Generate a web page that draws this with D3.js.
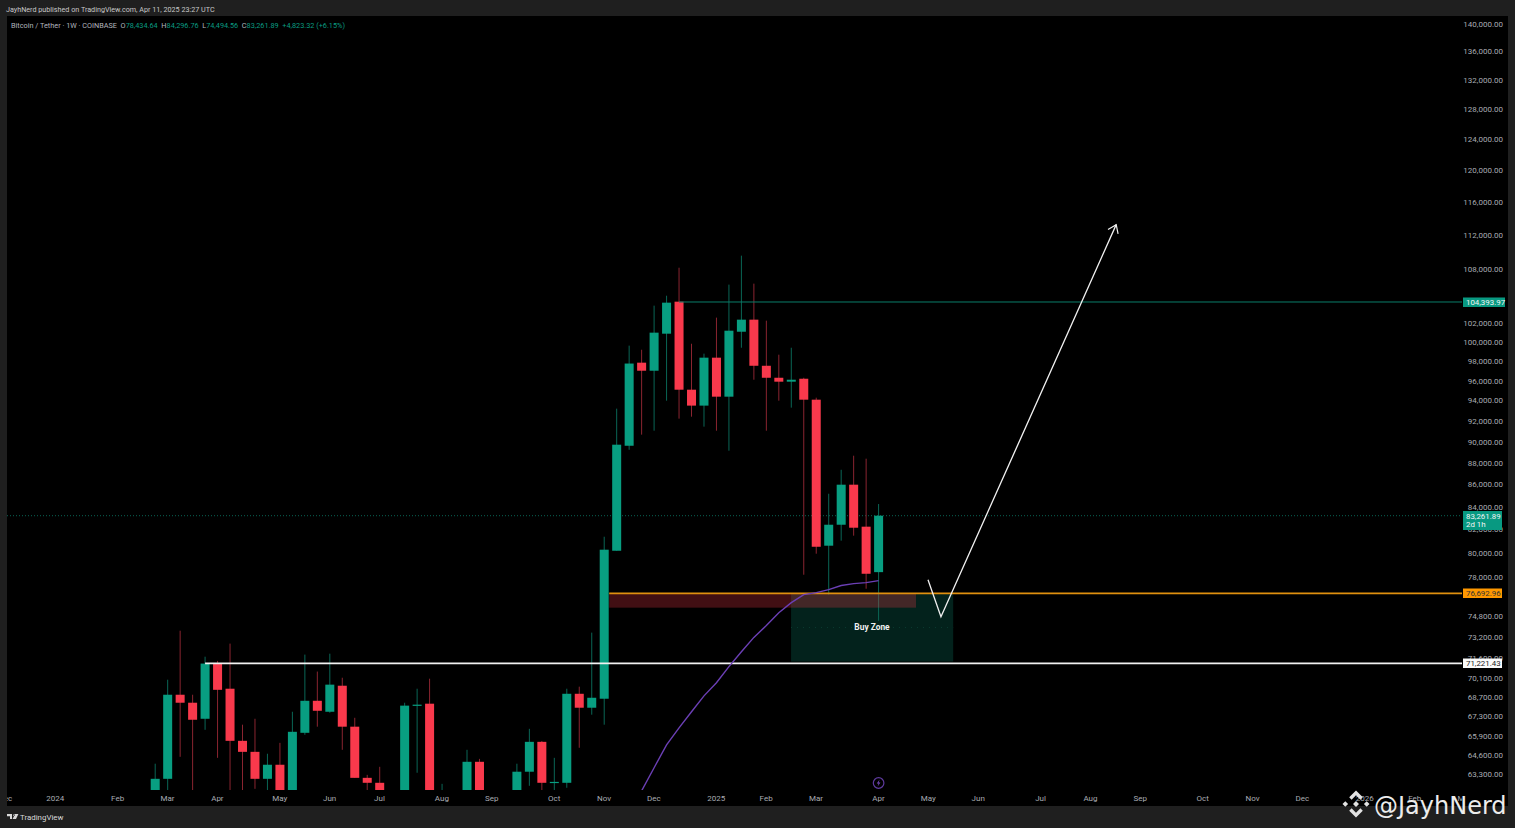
<!DOCTYPE html>
<html><head><meta charset="utf-8">
<script src="https://cdn.jsdelivr.net/npm/d3@7"></script>
<style>html,body{margin:0;padding:0;background:#1e1e1e;overflow:hidden}svg{display:block}
text{font-family:Roboto,"Open Sans",sans-serif}</style></head>
<body><svg id="c" width="1515" height="828"></svg>
<script>
// weekly candles, index 0 = week of late Feb 2024
const opens=[59000,63025,68890,68310,67160,71200,69330,65610,64850,63025,63970,60000,66170,68450,67660,69550,66600,63090,62760,57000,60000,68100,68240,58000,60900,58500,64170,59000,54000,60300,63500,65540,62760,62760,68960,67950,68600,80230,89660,97900,97070,100950,104430,95140,93550,98420,94440,101160,102460,97580,96350,95950,96250,94140,80660,82470,86040,82300,78434.64];
const highs=[64040,69995,73720,68890,71720,71400,72720,66740,67160,64720,65470,67660,71880,70600,71950,70140,67230,63290,63830,61000,68310,69330,70070,62690,61500,64990,64370,61500,60800,64040,66450,65600,64440,69330,69480,73570,81430,93250,99680,99250,103990,105090,108250,99880,98840,102680,106330,109640,106440,102350,98730,99460,96350,94340,85220,87410,88720,88440,84296.76];
const lows=[58000,61500,64510,61000,66380,64440,61000,60500,62360,60500,58500,58500,66030,66600,67590,64990,63090,61500,57000,56000,59000,63430,49000,56000,57000,58000,58000,57500,52500,59500,62560,61800,61000,62430,65130,67450,66740,80230,89280,90720,91100,94040,92270,92460,91490,91100,89190,99460,96150,91100,94040,93350,78220,79980,76590,81090,81520,77070,74494.56];
const closes=[63025,68890,68310,67090,71200,69250,65610,64850,63025,63970,60000,66240,68450,67730,69630,66600,63090,62760,58000,60500,68100,68170,58000,60500,58500,64170,59000,54000,60300,63500,65540,62760,62820,68960,67950,68670,80320,89760,97810,97070,101060,104320,95140,93550,98420,94440,101270,102460,97580,96350,95950,96150,94140,80570,82470,86040,82210,78300,83261.89];
// moving average, starting at candle 38
const maStart=38;
const maValues=[60600,62230,63770,65330,66520,67660,68810,69770,70970,72100,73200,74120,75140,75940,76590,76750,77000,77330,77490,77570,77730];
const priceTicks=[140000,136000,132000,128000,124000,120000,116000,112000,108000,102000,100000,98000,96000,94000,92000,90000,88000,86000,84000,82000,80000,78000,74800,73200,71600,70100,68700,67300,65900,64600,63300];
const timeTickWeeks=[-12,-8,-3,1,5,10,14,18,23,27,32,36,40,45,49,53,58,62,66,71,75,79,84,88,92,97,101,105];
const timeTickLabels=["Dec","2024","Feb","Mar","Apr","May","Jun","Jul","Aug","Sep","Oct","Nov","Dec","2025","Feb","Mar","Apr","May","Jun","Jul","Aug","Sep","Oct","Nov","Dec","2026","Feb","Mar"];
const lastPrice=83261.89, resistance=104393.97, orangeLevel=76692.96, whiteLevel=71221.43;
// annotations in (week, price)
const redBox=[36.4,61.0,76692.96,75540];
const greenBox=[50.98,63.98,76692.96,71350];
const pathWeeks=[61.96,63.0,77.05], pathPrices=[77810,74820,113300];
const headerText="JayhNerd published on TradingView.com, Apr 11, 2025 23:27 UTC";

const W=1515,H=828,G="#089e81",R="#f9394c";
const svg=d3.select("#c");
const x=d3.scaleLinear().domain([0,58]).range([155.2,878.6]);
const y=d3.scaleLog().domain([140000,63300]).range([24.7,774.7]);
svg.append("rect").attr("width",W).attr("height",H).attr("fill","#1f1f1f");
svg.append("rect").attr("x",7).attr("y",16).attr("width",1501).attr("height",790).attr("fill","#000");
const defs=svg.append("defs");
defs.append("clipPath").attr("id","plot").append("rect").attr("x",7).attr("y",16).attr("width",1455).attr("height",774);
defs.append("clipPath").attr("id","ta").append("rect").attr("x",7).attr("y",790).attr("width",1455).attr("height",16);
const plot=svg.append("g").attr("clip-path","url(#plot)");

// zones
plot.append("rect").attr("x",x(greenBox[0])).attr("width",x(greenBox[1])-x(greenBox[0])).attr("y",y(greenBox[2])).attr("height",y(greenBox[3])-y(greenBox[2])).attr("fill","#03221c");
plot.append("line").attr("x1",x(greenBox[0])).attr("x2",x(greenBox[1])).attr("y1",627.5).attr("y2",627.5).attr("stroke","#0a3a31").attr("stroke-dasharray","1 5");

// levels
plot.append("line").attr("x1",7).attr("x2",1462).attr("y1",y(lastPrice)).attr("y2",y(lastPrice)).attr("stroke","#0a7d6a").attr("stroke-width",.8).attr("stroke-dasharray","1 2");

// wicks + bodies
const idx=d3.range(opens.length);
plot.selectAll("line.w").data(idx).join("line").attr("class","w")
 .attr("x1",i=>x(i)).attr("x2",i=>x(i)).attr("y1",i=>y(highs[i])).attr("y2",i=>y(lows[i]))
 .attr("stroke",i=>closes[i]>=opens[i]?"#0a6656":"#8a2430").attr("stroke-width",1);
plot.selectAll("rect.b").data(idx).join("rect").attr("class","b")
 .attr("x",i=>x(i)-4.5).attr("width",9)
 .attr("y",i=>y(Math.max(opens[i],closes[i])))
 .attr("height",i=>Math.max(1.2,Math.abs(y(opens[i])-y(closes[i]))))
 .attr("fill",i=>closes[i]>=opens[i]?G:R);

// red box over candles
plot.append("rect").attr("x",x(redBox[0])).attr("width",x(redBox[1])-x(redBox[0])).attr("y",y(redBox[2])).attr("height",y(redBox[3])-y(redBox[2])).attr("fill","#f23645").attr("fill-opacity",.27);

// horizontal levels
plot.append("line").attr("x1",x(42)).attr("x2",1462).attr("y1",y(resistance)).attr("y2",y(resistance)).attr("stroke","#0a7d6a").attr("stroke-width",1);
plot.append("line").attr("x1",x(36.4)).attr("x2",1462).attr("y1",y(orangeLevel)).attr("y2",y(orangeLevel)).attr("stroke","#e0900f").attr("stroke-width",1.9);
plot.append("line").attr("x1",x(4)).attr("x2",1462).attr("y1",y(whiteLevel)).attr("y2",y(whiteLevel)).attr("stroke","#f2f2f2").attr("stroke-width",1.7);

// MA
plot.append("path").datum(maValues).attr("fill","none").attr("stroke","#6b3fb5").attr("stroke-width",1.4)
 .attr("d",d3.line().x((d,i)=>x(maStart+i)).y(d=>y(d)));

// arrow
const pts=pathWeeks.map((w,i)=>[x(w),y(pathPrices[i])]);
plot.append("path").attr("fill","none").attr("stroke","#f0f0f0").attr("stroke-width",1.3).attr("d",d3.line()(pts));
const [a,b]=[pts[1],pts[2]],ang=Math.atan2(b[1]-a[1],b[0]-a[0]),hl=9.5;
const barb=s=>[b[0]-hl*Math.cos(ang+s),b[1]-hl*Math.sin(ang+s)];
plot.append("path").attr("fill","none").attr("stroke","#f0f0f0").attr("stroke-width",1.2).attr("d",d3.line()([barb(.62),b,barb(-.62)]));

plot.append("text").attr("x",872).attr("y",630).attr("text-anchor","middle").attr("fill","#f0f0f0").attr("font-size",8.4).attr("font-weight",700).text("Buy Zone");

// axes
const ya=svg.append("g").attr("transform","translate(1503,-0.7)").call(d3.axisLeft(y).tickValues(priceTicks).tickSize(0).tickFormat(d3.format(",.2f")));
ya.select(".domain").remove();
ya.selectAll("text").attr("fill","#a9acb3").attr("font-size",8).attr("font-family","Roboto").attr("x",0);
const xa=svg.append("g").attr("clip-path","url(#ta)").append("g").attr("transform","translate(-0.7,790)").call(d3.axisBottom(x).tickValues(timeTickWeeks).tickSize(0).tickFormat((d,i)=>timeTickLabels[i]));
xa.select(".domain").remove();
xa.selectAll("text").attr("fill","#a9acb3").attr("font-size",8).attr("font-family","Roboto").attr("y",5.5);

// price labels
function tag(v,x0,x1,y0,y1,fill,col,sub){
 svg.append("rect").attr("x",x0).attr("width",x1-x0).attr("y",y0).attr("height",y1-y0).attr("fill",fill);
 svg.append("text").attr("x",x0+3).attr("y",sub?y0+8:y0+7.4).attr("fill",col).attr("font-size",7.9).text(d3.format(",.2f")(v));
 if(sub)svg.append("text").attr("x",x0+3).attr("y",y0+16).attr("fill",col).attr("font-size",7.9).text(sub);
}
tag(resistance,1463,1505,297.5,307,"#089981","#f5f5f5");
tag(lastPrice,1463,1502,511,530,"#089981","#f5f5f5","2d 1h");
tag(orangeLevel,1463,1502,588.5,598,"#ff9800","#333");
tag(whiteLevel,1463,1502,658.5,668,"#fafafa","#222");

// header and legend
svg.append("text").attr("x",6).attr("y",11.5).attr("fill","#c8c8c8").attr("font-size",7.2).attr("font-weight",400).text(headerText);
const lg=svg.append("text").attr("x",11).attr("y",27.5).attr("font-size",7.3).attr("fill","#b2b5be");
[["Bitcoin / Tether · 1W · COINBASE  ",0],["O",0],["78,434.64  ",1],["H",0],["84,296.76  ",1],["L",0],["74,494.56  ",1],["C",0],["83,261.89  ",1],["+4,823.32 (+6.15%)",1]]
 .forEach(([t,c])=>lg.append("tspan").attr("fill",c?"#0a9b80":"#b2b5be").attr("xml:space","preserve").text(t));
lg.style("white-space","pre");

// lightning marker
const lm=svg.append("g").attr("transform","translate("+x(58)+",783)");
lm.append("circle").attr("r",5.3).attr("fill","none").attr("stroke","#5e3a9e").attr("stroke-width",1.2);
lm.append("path").attr("d","M1,-3.4L-1.8,0.6H0L-1,3.4L1.8,-0.6H0Z").attr("fill","#7a4cc2");

// tradingview footer
const tv=svg.append("g").attr("transform","translate(7,814)").attr("fill","#d8d8d8");
tv.append("path").attr("d","M0,0H5V5H3V2.2H0ZM5.6,5L8,0H11.4L9,5ZM6.2,1.2a.9,.9 0 1 0 1.8,0a.9,.9 0 1 0 -1.8,0Z");
svg.append("text").attr("x",20).attr("y",820).attr("fill","#d8d8d8").attr("font-size",7.9).text("TradingView");

// watermark
const wm=svg.append("g").attr("transform","translate(1356,804)").attr("fill","#e2e2e2");
wm.append("path").attr("d","M0,-13.5L6.8,-6.7L4.4,-4.3L0,-8.7L-4.4,-4.3L-6.8,-6.7ZM0,13.5L6.8,6.7L4.4,4.3L0,8.7L-4.4,4.3L-6.8,6.7ZM-13.5,0L-10.7,-2.8L-7.9,0L-10.7,2.8ZM13.5,0L10.7,-2.8L7.9,0L10.7,2.8ZM0,-3L3,0L0,3L-3,0Z");
svg.append("text").attr("x",1374).attr("y",814).attr("fill","#ececec").attr("font-size",24).attr("style","font-family:'DejaVu Sans'").text("@JayhNerd");
</script></body></html>
